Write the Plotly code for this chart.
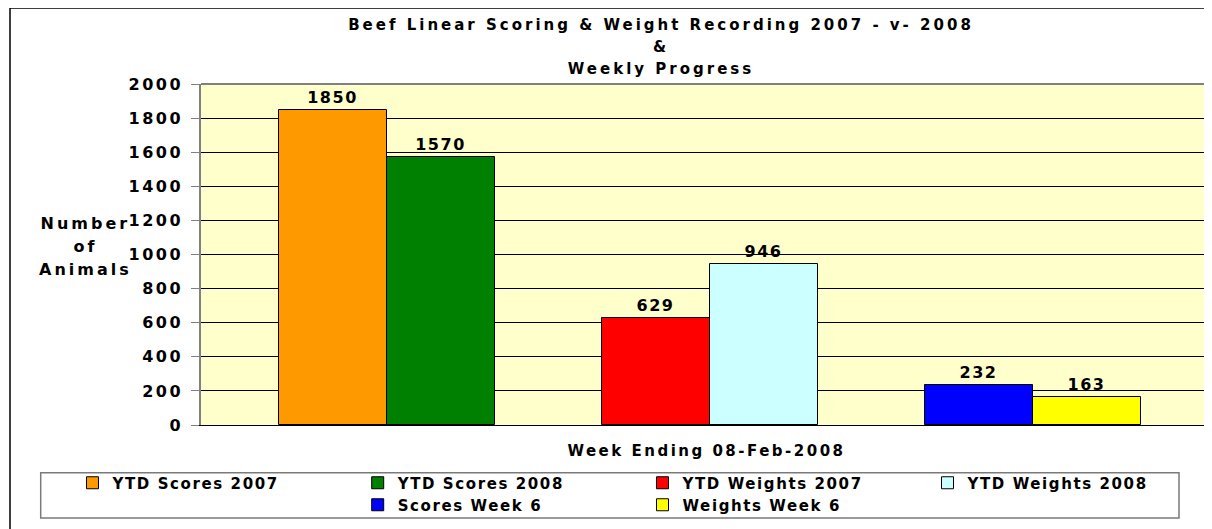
import plotly.graph_objects as go

# ---------------- data ----------------
groups = ["YTD Scores", "YTD Weights", "Week 6"]
series_names = ["YTD Scores 2007", "YTD Scores 2008", "YTD Weights 2007",
                "YTD Weights 2008", "Scores Week 6", "Weights Week 6"]
series_values = [1850, 1570, 629, 946, 232, 163]
series_group = ["YTD Scores", "YTD Scores", "YTD Weights", "YTD Weights", "Week 6", "Week 6"]
y_tick_values = [0, 200, 400, 600, 800, 1000, 1200, 1400, 1600, 1800, 2000]

title_lines = ["Beef Linear Scoring &amp; Weight Recording 2007 - v- 2008", "&amp;", "Weekly Progress"]
y_title_lines = ["Number", "of", "Animals"]
x_title = "Week Ending 08-Feb-2008"

# ---------------- style ----------------
colors = ["#FF9900", "#008000", "#FF0000", "#CCFFFF", "#0000FF", "#FFFF00"]
FONT = "DejaVu Sans"
OFF = 8                      # page body margin offset
W, H = 1204, 521
L, T = 201 - OFF, 84 - OFF   # plot area left / top (figure px)
R = 0
B = H - (425 - OFF)
PW = W - L - R
PH = H - T - B


def sp(text, ls, size=None):
    st = "letter-spacing:%spx" % ls
    if size:
        st += ";font-size:%spx" % size
    return "<span style='%s'>%s</span>" % (st, text)


def px_x(px):
    """screen x (reference pixels) -> paper x"""
    return (px - OFF - L) / PW


def px_y(py):
    """screen y (reference pixels) -> paper y"""
    return (H - B - (py - OFF)) / PH


fig = go.Figure()

# legend placement (symbol centres in reference pixels)
leg_pos = [(91.5, 483), (376.7, 483), (661.5, 483), (946.5, 483), (376.7, 505), (661.5, 505)]
legend_names = ["legend", "legend2", "legend3", "legend4", "legend5", "legend6"]

for i, (name, val, grp) in enumerate(zip(series_names, series_values, series_group)):
    first = (i % 2 == 0)
    fig.add_trace(go.Bar(
        x=[grp], y=[val], name=sp(name, 1.6),
        marker=dict(color=colors[i], line=dict(color="black", width=1)),
        width=1 / 3, offset=(-1 / 3 if first else 0),
        text=[sp(str(val), 1.5)], textposition="outside",
        textfont=dict(family=FONT, size=16, color="black", weight="bold"),
        cliponaxis=False, legend=legend_names[i], showlegend=True,
    ))

layout_legends = {}
for i, ln in enumerate(legend_names):
    cx, cy = leg_pos[i]
    layout_legends[ln] = dict(
        x=px_x(cx - 19), y=px_y(cy), xanchor="left", yanchor="middle",
        orientation="v", bgcolor="rgba(0,0,0,0)", borderwidth=0,
        font=dict(family=FONT, size=15, color="black", weight="bold"),
    )

fig.update_layout(
    width=W, height=H,
    margin=dict(l=L, r=R, t=T, b=B, autoexpand=False),
    paper_bgcolor="white", plot_bgcolor="#FFFFCC",
    barmode="overlay", bargap=0,
    title=dict(
        text="<br>".join(sp(t, 3, 15) for t in title_lines),
        x=(661 - OFF) / W, xref="container", xanchor="center",
        y=1 - (30 - OFF) / H, yref="container", yanchor="top",
        font=dict(family=FONT, size=17, color="black", weight="bold"),
    ),
    xaxis=dict(
        type="category", categoryorder="array", categoryarray=groups,
        range=[-0.576, 2.554], showticklabels=False, ticks="",
        showgrid=False, showline=True, linecolor="black", linewidth=1,
        zeroline=False, fixedrange=True,
        title=dict(text=sp(x_title, 2.5), standoff=20,
                   font=dict(family=FONT, size=15, color="black", weight="bold")),
    ),
    yaxis=dict(
        range=[0, 2000], tickmode="array", tickvals=y_tick_values,
        ticktext=[sp(str(v), 2.5) for v in y_tick_values],
        showgrid=True, gridcolor="black", gridwidth=1,
        showline=True, linecolor="#808080", linewidth=1.5,
        ticks="outside", ticklen=8, tickcolor="#808080", tickwidth=1,
        ticklabelstandoff=5, zeroline=False, fixedrange=True,
        tickfont=dict(family=FONT, size=16, color="black", weight="bold"),
    ),
    annotations=[dict(
        text="<br>".join(sp(t, 3, 16) for t in y_title_lines),
        xref="paper", yref="paper", x=px_x(85), y=px_y(246),
        xanchor="center", yanchor="middle", showarrow=False, align="center",
        font=dict(family=FONT, size=17.5, color="black", weight="bold"),
    )],
    shapes=[
        # plot area top border
        dict(type="line", xref="paper", yref="paper", x0=0, x1=1, y0=1, y1=1,
             line=dict(color="#808080", width=2)),
        # legend box
        dict(type="rect", xref="paper", yref="paper",
             x0=px_x(40.7), x1=px_x(1179), y0=px_y(472.7), y1=px_y(518),
             line=dict(color="#7a7a7a", width=1.5), fillcolor="rgba(0,0,0,0)"),
        # chart area border
        dict(type="rect", xref="paper", yref="paper",
             x0=px_x(10), x1=px_x(1230), y0=px_y(8), y1=px_y(545),
             line=dict(color="black", width=1.5), fillcolor="rgba(0,0,0,0)"),
    ],
    **layout_legends,
)

fig.write_html("out.html")
